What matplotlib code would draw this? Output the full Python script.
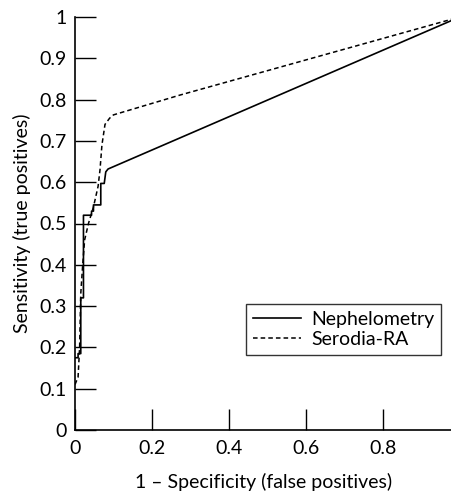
import matplotlib.pyplot as plt

# ROC curves
neph_fpr = [0.0, 0.008, 0.008, 0.015, 0.015, 0.022, 0.022, 0.043, 0.043, 0.048, 0.048,
            0.067, 0.067, 0.076, 0.080, 0.086, 1.0]
neph_tpr = [0.175, 0.175, 0.185, 0.185, 0.32, 0.32, 0.52, 0.52, 0.53, 0.53, 0.545,
            0.545, 0.597, 0.597, 0.625, 0.632, 1.0]

sero_fpr = [0.0, 0.008, 0.012, 0.015, 0.020, 0.025, 0.035, 0.048, 0.060, 0.065,
            0.070, 0.078, 0.090, 0.100, 0.273, 1.0]
sero_tpr = [0.11, 0.128, 0.20, 0.33, 0.40, 0.46, 0.50, 0.54, 0.59, 0.63,
            0.69, 0.74, 0.755, 0.763, 0.811, 1.0]

xticks = [0, 0.2, 0.4, 0.6, 0.8]
yticks = [0, 0.1, 0.2, 0.3, 0.4, 0.5, 0.6, 0.7, 0.8, 0.9, 1]

plt.rcParams['font.family'] = ['Lato', 'DejaVu Sans']
plt.rcParams['font.size'] = 14

fig = plt.figure(figsize=(4.52, 4.93), dpi=100)
ax = fig.add_axes([75 / 452, 63 / 493, 377 / 452, 413 / 493])

ax.plot(neph_fpr, neph_tpr, color='black', lw=1.2, label='Nephelometry')
ax.plot(sero_fpr, sero_tpr, color='black', lw=1.1, ls=(0, (3, 2)), label='Serodia-RA')

ax.set_xlim(0, 0.98)
ax.set_ylim(0, 1)
ax.set_xticks(xticks)
ax.set_xticklabels(['0', '0.2', '0.4', '0.6', '0.8'])
ax.set_yticks(yticks)
ax.set_yticklabels(['0', '0.1', '0.2', '0.3', '0.4', '0.5', '0.6', '0.7', '0.8', '0.9', '1'])
ax.tick_params(direction='in', length=15, width=1)
ax.tick_params(axis='x', pad=7)
ax.tick_params(axis='y', pad=6)
for s in ['top', 'right']:
    ax.spines[s].set_visible(False)
for s in ['left', 'bottom']:
    ax.spines[s].set_linewidth(1.2)

ax.set_xlabel('1 \u2013 Specificity (false positives)', labelpad=12)
ax.set_ylabel('Sensitivity (true positives)', labelpad=6)

leg = ax.legend(loc='upper left', bbox_to_anchor=(246 / 452, 1 - 304 / 493),
                bbox_transform=fig.transFigure, borderaxespad=0,
                frameon=True, fancybox=False, edgecolor='black', handlelength=2.5,
                handletextpad=0.5, borderpad=0.35, labelspacing=0.15, fontsize=14)
leg.get_frame().set_linewidth(1.0)

fig.savefig('out.png', dpi=100)
